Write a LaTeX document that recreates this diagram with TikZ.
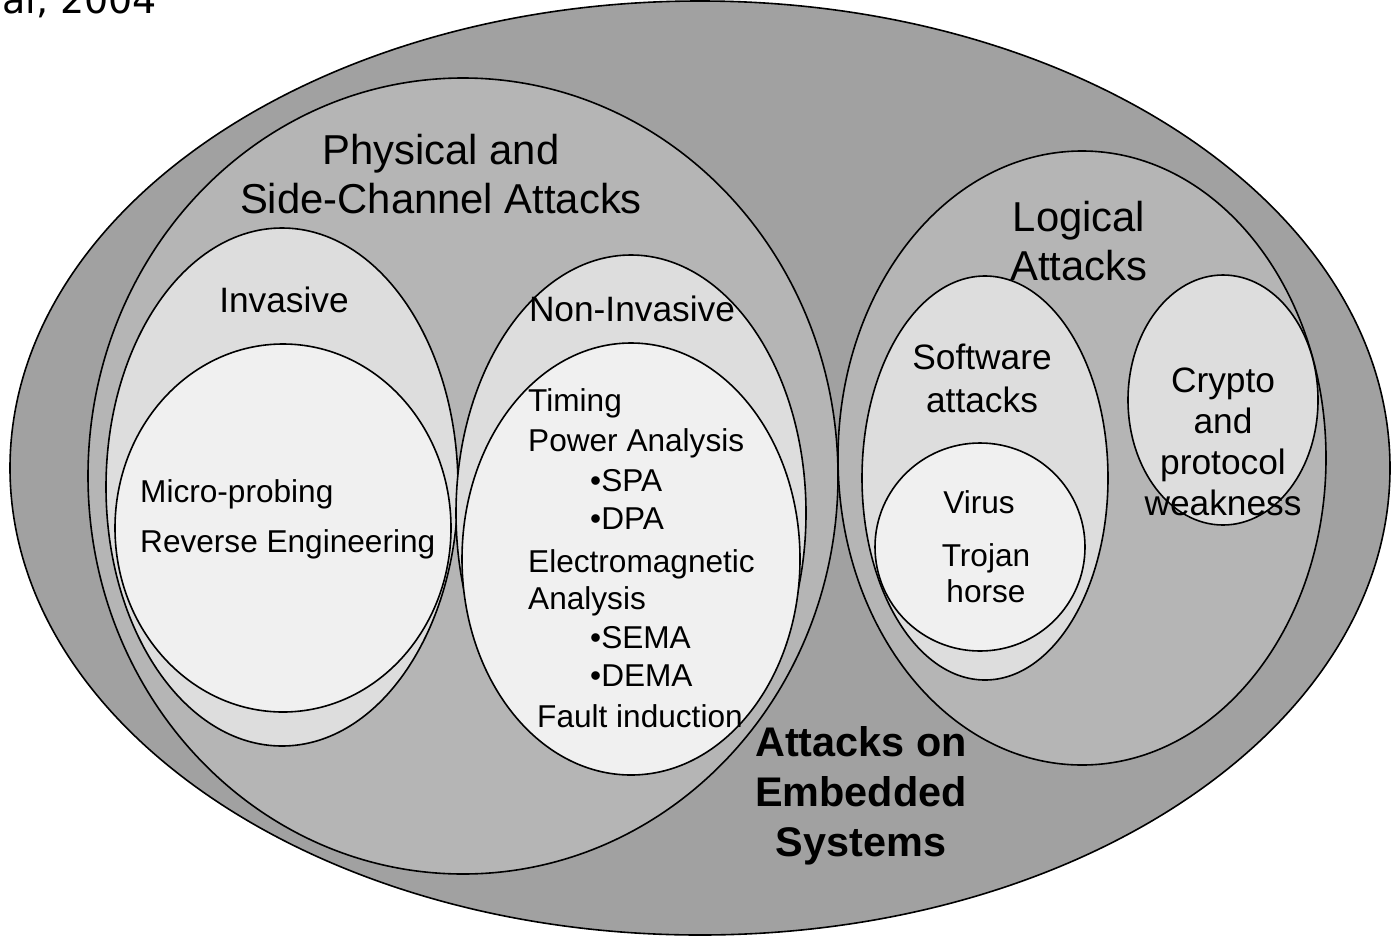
\documentclass[tikz,border=0pt]{standalone}
\usepackage{fontspec}
\setmainfont{Liberation Sans}
\newfontfamily\capfont{DejaVu Sans}
\definecolor{outerg}{gray}{0.63}
\definecolor{midg}{gray}{0.71}
\definecolor{lightg}{gray}{0.865}
\definecolor{whiteg}{gray}{0.94}
\begin{document}
\begin{tikzpicture}[x=1pt,y=-1pt,
  ell/.style={draw=black,line width=1.6pt},
  title/.style={font=\fontsize{41.8}{49}\selectfont,align=center,inner sep=0pt},
  sub/.style={font=\fontsize{35.3}{41}\selectfont,align=center,inner sep=0pt},
  item/.style={font=\fontsize{31.6}{36}\selectfont,anchor=west,inner sep=0pt},
  big/.style={font=\fontsize{41.4}{50}\selectfont\bfseries,align=center,inner sep=0pt}]
\fill[white] (0,0) rectangle (1391,937);
\useasboundingbox (0,0) rectangle (1391,937);
% ellipses
\draw[ell,fill=outerg] (700,468) ellipse [x radius=690pt,y radius=467pt];
\draw[ell,fill=midg] (463,476) ellipse [x radius=375pt,y radius=398pt];
\draw[ell,fill=midg] (1082,458) ellipse [x radius=244pt,y radius=307pt];
\draw[ell,fill=lightg] (282,487) ellipse [x radius=176pt,y radius=259pt];
\draw[ell,fill=whiteg] (283,528) ellipse [x radius=168pt,y radius=184pt];
\draw[ell,fill=lightg] (631,513) ellipse [x radius=175pt,y radius=258pt];
\draw[ell,fill=whiteg] (631,559) ellipse [x radius=169pt,y radius=216pt];
\draw[ell,fill=lightg] (985,478) ellipse [x radius=123pt,y radius=202pt];
\draw[ell,fill=whiteg] (980,547) ellipse [x radius=105pt,y radius=104pt];
\draw[ell,fill=lightg] (1223,400) ellipse [x radius=95pt,y radius=125pt];
% texts
\node[anchor=base west,inner sep=0pt,font=\capfont\fontsize{38}{40}\selectfont] (cite) at (2,13) {al, 2004};
\node[title] (phys) at (441,174) {Physical and\\Side-Channel Attacks};
\node[sub] (inv) at (284,300) {Invasive};
\node[sub] (noninv) at (632,309) {Non-Invasive};
\node[item] (micro) at (140,494) {Micro-probing};
\node[item] (rev) at (140,544) {Reverse Engineering};
\node[item] (timing) at (528,403) {Timing};
\node[item] (power) at (528,443) {Power Analysis};
\node[item] (spa) at (590,481) {•SPA};
\node[item] (dpa) at (590,519) {•DPA};
\node[item] (em) at (528,564) {Electromagnetic};
\node[item] (ana) at (528,601) {Analysis};
\node[item] (sema) at (590,638) {•SEMA};
\node[item] (dema) at (590,676) {•DEMA};
\node[item] (fault) at (537,716) {Fault induction};
\node[title] (logic) at (1079,241) {Logical\\Attacks};
\node[sub,font=\fontsize{35.3}{43}\selectfont] (soft) at (982,378) {Software\\attacks};
\node[sub,font=\fontsize{35.3}{41}\selectfont] (crypto) at (1223,442) {Crypto\\and\\protocol\\weakness};
\node[item,anchor=center] (virus) at (979,502) {Virus};
\node[sub,font=\fontsize{31.6}{36}\selectfont] (trojan) at (986,573) {Trojan\\horse};
\node[big] (embedded) at (861,796) {Attacks on\\Embedded\\Systems};
\end{tikzpicture}
\end{document}
